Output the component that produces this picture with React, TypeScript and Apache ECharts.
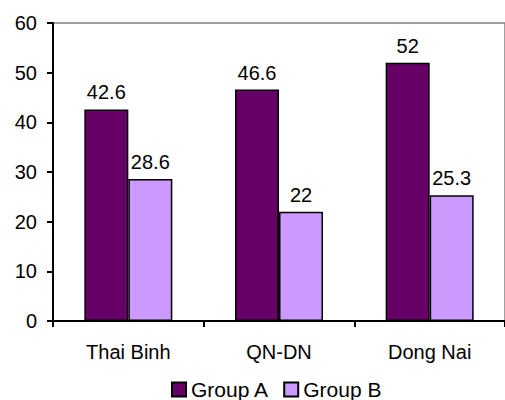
import React, { useEffect, useRef } from "react";
import * as echarts from "echarts";

const categories = ["Thai Binh", "QN-DN", "Dong Nai"];
const groupA = [42.6, 46.6, 52];
const groupB = [28.6, 22, 25.3];
const seriesNames = ["Group A", "Group B"];

const FONT = "'Liberation Sans', Arial, sans-serif";
const FS = 20;

export default function App() {
  const ref = useRef<HTMLDivElement>(null);
  useEffect(() => {
    if (!ref.current) return;
    const chart = echarts.init(ref.current, undefined, { renderer: "svg" });
    const labelCommon = {
      show: true,
      position: "top" as const,
      distance: 7,
      color: "#000",
      fontFamily: FONT,
      fontSize: FS,
    };
    chart.setOption({
      animation: false,
      backgroundColor: "#fff",
      textStyle: { fontFamily: FONT },
      grid: {
        left: 53,
        top: 23,
        width: 460,
        height: 298,
        show: true,
        borderColor: "#808080",
        borderWidth: 1.5,
      },
      legend: {
        top: 374,
        left: 166,
        itemWidth: 14,
        itemHeight: 14,
        itemGap: 14,
        icon: "rect",
        textStyle: { fontFamily: FONT, fontSize: 21, color: "#000" },
        data: seriesNames,
      },
      xAxis: {
        type: "category",
        data: categories,
        axisLine: { lineStyle: { color: "#000", width: 2 } },
        axisTick: { show: true, length: 6, lineStyle: { color: "#000", width: 2 } },
        axisLabel: { color: "#000", fontSize: FS, fontFamily: FONT, margin: 21 },
      },
      yAxis: {
        type: "value",
        min: 0,
        max: 60,
        interval: 10,
        axisLine: { show: true, lineStyle: { color: "#000", width: 2 } },
        axisTick: { show: true, length: 6, lineStyle: { color: "#000", width: 2 } },
        axisLabel: { color: "#000", fontSize: FS, fontFamily: FONT, margin: 16 },
        splitLine: { show: false },
      },
      series: [
        {
          name: seriesNames[0],
          type: "bar",
          data: groupA,
          barWidth: 44,
          barGap: "0%",
          itemStyle: { color: "#660066", borderColor: "#000", borderWidth: 1.5 },
          label: labelCommon,
        },
        {
          name: seriesNames[1],
          type: "bar",
          data: groupB,
          barWidth: 44,
          barGap: "0%",
          itemStyle: { color: "#CC99FF", borderColor: "#000", borderWidth: 1.5 },
          label: labelCommon,
        },
      ],
    });
    return () => chart.dispose();
  }, []);
  return <div ref={ref} style={{ width: 505, height: 400, position: "absolute", left: 0, top: 0 }} />;
}
